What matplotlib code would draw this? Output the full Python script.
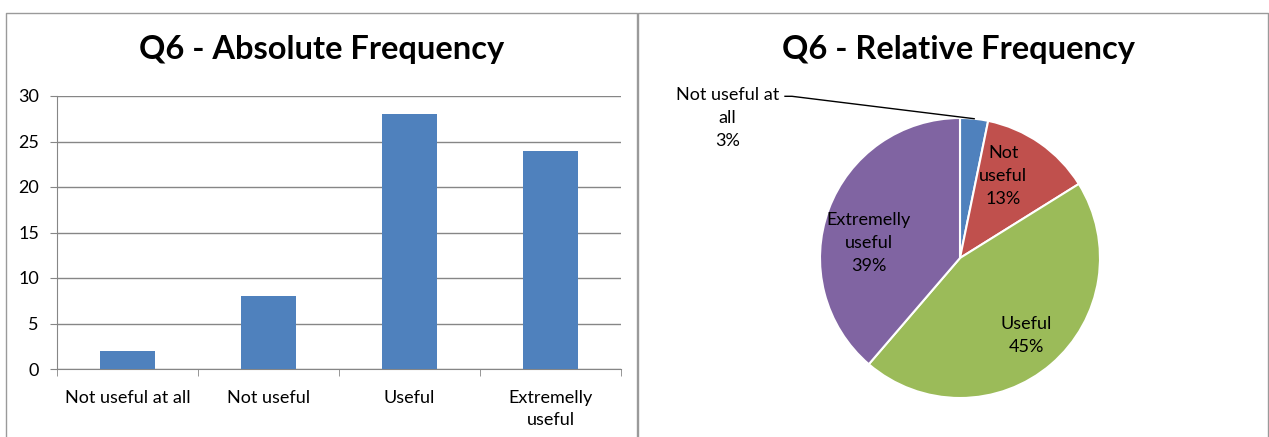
import numpy as np
import matplotlib.pyplot as plt
from matplotlib.lines import Line2D
from matplotlib.ticker import FixedLocator

plt.rcParams['font.family'] = ['Lato', 'DejaVu Sans']

categories = ['Not useful at all', 'Not useful', 'Useful', 'Extremelly\nuseful']
counts = [2, 8, 28, 24]
pie_labels = ['Not useful at\nall', 'Not\nuseful', 'Useful', 'Extremelly\nuseful']
pie_colors = ['#4F81BD', '#C0504D', '#9BBB59', '#8064A2']
yticks = [0, 5, 10, 15, 20, 25, 30]

W, H = 1269, 437
fig = plt.figure(figsize=(W / 100, H / 100), dpi=100)
fig.patch.set_facecolor('white')

def px(x0, y0, x1, y1):
    # pixel box (top-left origin) -> figure fraction rect
    return [x0 / W, 1 - y1 / H, (x1 - x0) / W, (y1 - y0) / H]

# panel frames
frame = '#9a9a9a'
for (x0, x1) in [(6, 637), (638, 1268)]:
    xs = [x0 / W, x0 / W, x1 / W, x1 / W]
    ys = [0, 1 - 13 / H, 1 - 13 / H, 0]
    fig.add_artist(Line2D(xs, ys, color=frame, lw=1.0, transform=fig.transFigure))

fs = 13

# ---- bar chart ----
ax = fig.add_axes(px(57, 96, 621, 369))
x = np.arange(len(categories))
ax.bar(x, counts, width=0.39, color='#4F81BD', zorder=3)
ax.set_xlim(-0.5, len(categories) - 0.5)
ax.set_ylim(0, 30)
ax.set_yticks(yticks)
ax.grid(axis='y', color='#868686', lw=1, zorder=0)
ax.set_xticks(x)
ax.set_xticklabels(categories, fontsize=fs, linespacing=1.45)
ax.xaxis.set_minor_locator(FixedLocator(np.arange(-0.5, len(categories), 1)))
ax.tick_params(axis='x', which='major', length=0, pad=15)
ax.tick_params(axis='x', which='minor', length=5, color='#868686', direction='out')
ax.tick_params(axis='y', length=5, color='#868686', labelsize=fs, pad=8)
for s in ['top', 'right']:
    ax.spines[s].set_visible(False)
for s in ['left', 'bottom']:
    ax.spines[s].set_color('#868686')
fig.text(322 / W, 1 - 50 / H, 'Q6 - Absolute Frequency', ha='center', va='center',
         fontsize=23.5, fontweight='bold')

# ---- pie chart ----
cx, cy, r = 960, 258, 140
pax = fig.add_axes(px(cx - r, cy - r, cx + r, cy + r))
wedges, _ = pax.pie(counts, colors=pie_colors, startangle=90, counterclock=False,
                    wedgeprops=dict(edgecolor='white', linewidth=1.5))
pax.set_xlim(-1, 1)
pax.set_ylim(-1, 1)

total = sum(counts)
for i, w in enumerate(wedges):
    pct = '%d%%' % round(100 * counts[i] / total)
    mid = np.deg2rad((w.theta1 + w.theta2) / 2)
    text = pie_labels[i] + '\n' + pct
    if i == 0:
        # small slice: label outside with a leader line
        tx, ty = -1.66, 1.0
        pax.text(tx, ty, text, ha='center', va='center', fontsize=fs,
                 linespacing=1.55, clip_on=False)
        pax.plot([-1.25, -1.20, np.cos(mid)], [1.155, 1.155, np.sin(mid)],
                 color='black', lw=1, clip_on=False)
    else:
        shift = {1: 7, 2: 0, 3: 11}[i]
        rad = {1: 0.66, 2: 0.73, 3: 0.66}[i]
        a = mid + np.deg2rad(shift)
        pax.text(rad * np.cos(a), rad * np.sin(a), text, ha='center', va='center',
                 fontsize=fs, linespacing=1.55)
fig.text(958 / W, 1 - 50 / H, 'Q6 - Relative Frequency', ha='center', va='center',
         fontsize=23.5, fontweight='bold')

fig.savefig('out.png', dpi=100)
